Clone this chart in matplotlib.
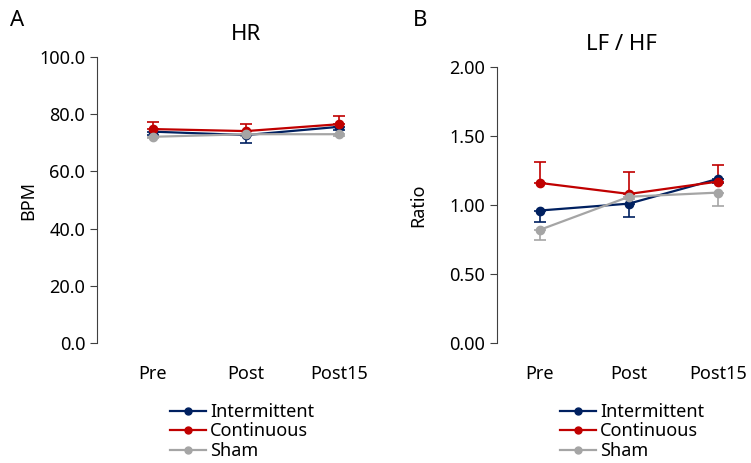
import matplotlib.pyplot as plt
from matplotlib.lines import Line2D
import numpy as np

plt.rcParams['font.family'] = ['Noto Sans', 'DejaVu Sans']

phases = ['Pre', 'Post', 'Post15']
groups = ['Intermittent', 'Continuous', 'Sham']
colors = ['#002060', '#C00000', '#A5A5A5']

# HR (BPM) means and one-sided error
hr_int = [73.9, 72.7, 75.6]
hr_con = [74.8, 74.1, 76.5]
hr_sham = [72.1, 73.0, 73.0]
hr_int_err = [1.0, 2.7, 1.0]
hr_con_err = [2.5, 2.5, 2.9]
hr_sham_err = [0.5, 0.5, 0.5]

# LF/HF ratio means and one-sided error
lf_int = [0.96, 1.01, 1.19]
lf_con = [1.16, 1.08, 1.17]
lf_sham = [0.82, 1.06, 1.09]
lf_int_err = [0.08, 0.10, 0.03]
lf_con_err = [0.15, 0.16, 0.12]
lf_sham_err = [0.07, 0.02, 0.10]

x = np.arange(len(phases))

fig = plt.figure(figsize=(7.51, 4.63), dpi=100)
ax1 = fig.add_axes([97/751, 120/463, 298/751, 286/463])
ax2 = fig.add_axes([497/751, 120/463, 248/751, 276/463])


def draw(ax, series, errs, ups, ylim, yticks, fmt, ylabel, title, xlim, labx, legx):
    for vals, err, up, c, name in zip(series, errs, ups, colors, groups):
        yerr = [np.zeros(3), err] if up else [err, np.zeros(3)]
        ax.errorbar(x, vals, yerr=yerr, color=c, marker='o', ms=6, lw=1.6,
                    capsize=4, elinewidth=1.2, capthick=1.2)
    ax.set_xlim(*xlim)
    ax.set_ylim(*ylim)
    ax.set_yticks(yticks)
    ax.set_yticklabels([fmt.format(v) for v in yticks])
    ax.set_xticks(x)
    ax.set_xticklabels(phases)
    for s in ['top', 'right', 'bottom']:
        ax.spines[s].set_visible(False)
    ax.spines['left'].set_color('#404040')
    ax.tick_params(axis='x', length=0, labelsize=13, pad=16)
    ax.tick_params(axis='y', length=5, labelsize=13, color='#404040')
    ax.set_ylabel(ylabel, fontsize=13)
    ax.yaxis.set_label_coords(labx, 0.5)
    ax.set_title(title, fontsize=16, pad=12)
    handles = [Line2D([], [], color=c, lw=1.6, marker='o', ms=5) for c in colors]
    ax.legend(handles, groups, loc='upper center',
              bbox_to_anchor=(legx / 751, 1 - 394 / 463),
              bbox_transform=fig.transFigure,
              frameon=False, fontsize=13, handlelength=2.0, handletextpad=0.2,
              labelspacing=0.08, borderpad=0)


draw(ax1, [hr_int, hr_con, hr_sham], [hr_int_err, hr_con_err, hr_sham_err],
     [False, True, False], (0, 100), np.arange(0, 101, 20), '{:.1f}', 'BPM', 'HR',
     (-0.6, 2.6), -0.20, 242)
draw(ax2, [lf_int, lf_con, lf_sham], [lf_int_err, lf_con_err, lf_sham_err],
     [False, True, False], (0, 2), np.arange(0, 2.01, 0.5), '{:.2f}', 'Ratio', 'LF / HF',
     (-0.48, 2.3), -0.28, 632)

fig.text(10/751, 1 - 20/463, 'A', fontsize=16, va='center')
fig.text(413/751, 1 - 20/463, 'B', fontsize=16, va='center')

fig.savefig('out.png', dpi=100)
